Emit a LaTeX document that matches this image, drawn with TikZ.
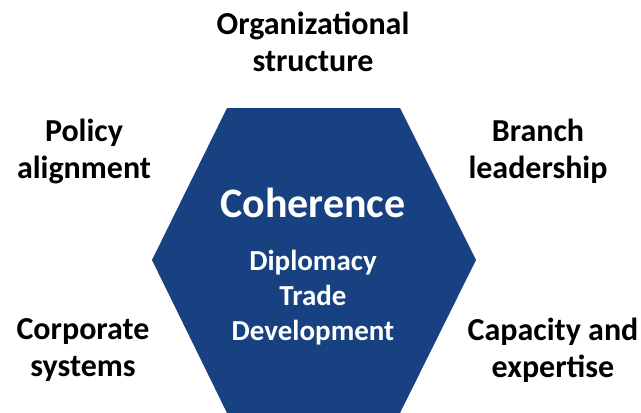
\documentclass[tikz,border=0pt]{standalone}
\usepackage{fontspec}
\setmainfont{Carlito}
\usetikzlibrary{positioning}

\definecolor{hexblue}{RGB}{23,65,128}

\begin{document}
\begin{tikzpicture}[x=1pt,y=-1pt,
  sidelabel/.style={align=center,font=\fontsize{32}{37}\selectfont\bfseries,text=black,inner sep=0pt},
  innerlabel/.style={align=center,font=\fontsize{29}{35}\selectfont\bfseries,text=white,inner sep=0pt}]

\useasboundingbox (0,0) rectangle (641,413);

% hexagon
\fill[hexblue] (227,108) -- (400,108) -- (476,260) -- (400,413) -- (227,413) -- (152,260) -- cycle;

\node[font=\fontsize{42}{46}\selectfont\bfseries,text=white,inner sep=0pt] (core) at (313,203) {Coherence};
\node[innerlabel] (areas) at (313,298) {Diplomacy\\Trade\\Development};

% surrounding labels
\node[sidelabel] (org) at (313,42) {Organizational\\structure};
\node[sidelabel] (policy) at (84,151) {Policy\\alignment};
\node[sidelabel] (branch) at (538,151) {Branch\\leadership};
\node[sidelabel] (corp) at (83,350) {Corporate\\systems};
\node[sidelabel] (capacity) at (553,350) {Capacity and\\expertise};
\end{tikzpicture}
\end{document}
